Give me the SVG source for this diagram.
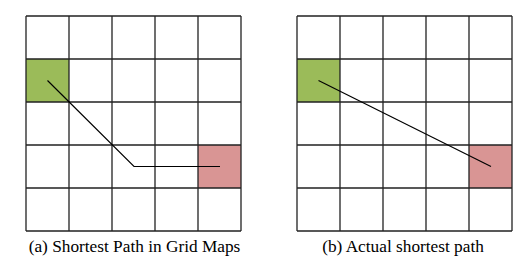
<svg xmlns="http://www.w3.org/2000/svg" width="530" height="269" viewBox="0 0 530 269">
<defs>
<style>
.grid{fill:none;stroke:#222;stroke-width:1.3}
.start{fill:#9BBB59}
.goal{fill:#D99594}
.path{fill:none;stroke:#000;stroke-width:1.2}
.cap{font-family:"Liberation Serif",serif;font-size:17.3px;fill:#000}
</style>
</defs>
<rect width="530" height="269" fill="#fff"/>
<g id="gridA">
<rect id="startA" class="start" x="26" y="59" width="43" height="43"/>
<rect id="goalA" class="goal" x="198" y="145" width="43" height="43"/>
<path class="grid" d="M26 16H241M26 59H241M26 102H241M26 145H241M26 188H241M26 231H241M26 16V231M69 16V231M112 16V231M155 16V231M198 16V231M241 16V231"/>
</g>
<g id="gridB">
<rect id="startB" class="start" x="297" y="59" width="43" height="43"/>
<rect id="goalB" class="goal" x="469" y="145" width="43" height="43"/>
<path class="grid" d="M297 16H512M297 59H512M297 102H512M297 145H512M297 188H512M297 231H512M297 16V231M340 16V231M383 16V231M426 16V231M469 16V231M512 16V231"/>
</g>
<g id="connectors">
<polyline class="path" points="47.5,80.5 134,166.5 220,166.5"/>
<line class="path" x1="318.5" y1="80.5" x2="491" y2="166.5"/>
</g>
<text class="cap" x="134.5" y="251.5" text-anchor="middle">(a) Shortest Path in Grid Maps</text>
<text class="cap" x="403" y="251.5" text-anchor="middle">(b) Actual shortest path</text>
</svg>
